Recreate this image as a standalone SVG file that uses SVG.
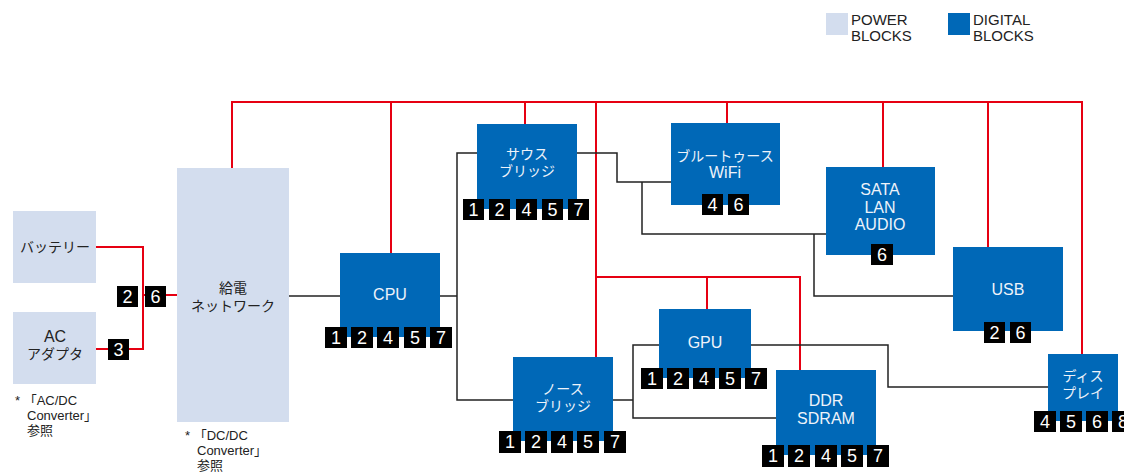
<svg xmlns="http://www.w3.org/2000/svg" width="1124" height="473" viewBox="0 0 1124 473">
<style>
.pw{fill:#d3ddee}
.dg{fill:#0068b7}
.red{stroke:#e60012;stroke-width:2;fill:none}
.blk{stroke:#222;stroke-width:1.5;fill:none}
.jp{font-family:"Noto Sans CJK JP","Liberation Sans",sans-serif;font-size:14px;text-anchor:middle}
.en{font-family:"Liberation Sans","Noto Sans CJK JP",sans-serif;font-size:16px;text-anchor:middle}
.dk{fill:#222}
.wt{fill:#eef3fa}
.note{font-family:"Liberation Sans","Noto Sans CJK JP",sans-serif;font-size:13px;fill:#222}
.leg{font-family:"Liberation Sans",sans-serif;font-size:15px;fill:#222}
.bg rect{fill:#000}
.bg text{font-family:"Liberation Sans",sans-serif;font-size:18px;fill:#fff;text-anchor:middle}
</style>

<g id="legend">
<rect class="pw" x="826" y="13" width="22" height="22"/>
<text class="leg" x="851" y="25">POWER</text>
<text class="leg" x="851" y="41">BLOCKS</text>
<rect class="dg" x="948" y="13" width="22" height="22"/>
<text class="leg" x="973" y="25">DIGITAL</text>
<text class="leg" x="973" y="41">BLOCKS</text>
</g>

<g id="connectors">
<polyline class="red" points="232,168 232,102 1082,102 1082,354"/>
<line class="red" x1="391" y1="102" x2="391" y2="253"/>
<line class="red" x1="525" y1="102" x2="525" y2="124"/>
<line class="red" x1="596" y1="102" x2="596" y2="357"/>
<line class="red" x1="727" y1="102" x2="727" y2="123"/>
<line class="red" x1="883" y1="102" x2="883" y2="167"/>
<line class="red" x1="988" y1="102" x2="988" y2="247"/>
<polyline class="red" points="596,277 800,277 800,370"/>
<line class="red" x1="707" y1="277" x2="707" y2="309"/>
<polyline class="red" points="96,247 143,247 143,349 96,349"/>
<line class="red" x1="143" y1="295" x2="177" y2="295"/>
<line class="blk" x1="289" y1="296" x2="340" y2="296"/>
<line class="blk" x1="440" y1="296" x2="457" y2="296"/>
<polyline class="blk" points="477,153 457,153 457,400 513,400"/>
<polyline class="blk" points="577,153 617,153 617,182 671,182"/>
<polyline class="blk" points="642,182 642,234 826,234"/>
<polyline class="blk" points="814,234 814,296 953,296"/>
<polyline class="blk" points="613,400 633,400"/>
<polyline class="blk" points="659,345 633,345 633,418 776,418"/>
<polyline class="blk" points="751,345 888,345 888,387 1048,387"/>
</g>

<g id="battery">
<rect class="pw" x="13" y="211" width="83" height="72"/>
<text class="jp dk" x="55" y="252">バッテリー</text>
</g>

<g id="ac-adapter">
<rect class="pw" x="13" y="312" width="83" height="72"/>
<text class="en dk" x="55" y="342">AC</text>
<text class="jp dk" x="55" y="359">アダプタ</text>
</g>

<g id="note-acdc">
<text class="note" x="15" y="405">* 「AC/DC</text>
<text class="note" x="27" y="420">Converter」</text>
<text class="note" x="27" y="435">参照</text>
</g>

<g id="power-network">
<rect class="pw" x="177" y="168" width="112" height="254"/>
<text class="jp dk" x="233" y="293">給電</text>
<text class="jp dk" x="233" y="311">ネットワーク</text>
</g>

<g id="note-dcdc">
<text class="note" x="185" y="440">* 「DC/DC</text>
<text class="note" x="197" y="455">Converter」</text>
<text class="note" x="197" y="470">参照</text>
</g>

<g id="badges-power" class="bg">
<rect x="117" y="286" width="21" height="21"/><text x="127.5" y="303">2</text>
<rect x="145" y="286" width="21" height="21"/><text x="155.5" y="303">6</text>
<rect x="108" y="339" width="21" height="21"/><text x="118.5" y="356">3</text>
</g>

<g id="cpu">
<rect class="dg" x="340" y="253" width="100" height="84"/>
<text class="en wt" x="390" y="300">CPU</text>
<g class="bg">
<rect x="325" y="327" width="22" height="21"/><text x="336" y="344">1</text>
<rect x="351" y="327" width="22" height="21"/><text x="362" y="344">2</text>
<rect x="377" y="327" width="22" height="21"/><text x="388" y="344">4</text>
<rect x="404" y="327" width="22" height="21"/><text x="415" y="344">5</text>
<rect x="430" y="327" width="22" height="21"/><text x="441" y="344">7</text>
</g>
</g>

<g id="south-bridge">
<rect class="dg" x="477" y="124" width="100" height="85"/>
<text class="jp wt" x="527" y="159">サウス</text>
<text class="jp wt" x="527" y="176">ブリッジ</text>
<g class="bg">
<rect x="463" y="199" width="21" height="21"/><text x="473.5" y="216">1</text>
<rect x="489" y="199" width="21" height="21"/><text x="499.5" y="216">2</text>
<rect x="516" y="199" width="21" height="21"/><text x="526.5" y="216">4</text>
<rect x="542" y="199" width="21" height="21"/><text x="552.5" y="216">5</text>
<rect x="568" y="199" width="21" height="21"/><text x="578.5" y="216">7</text>
</g>
</g>

<g id="bluetooth-wifi">
<rect class="dg" x="671" y="123" width="109" height="82"/>
<text class="jp wt" x="725" y="161">ブルートゥース</text>
<text class="en wt" x="725" y="178">WiFi</text>
<g class="bg">
<rect x="702" y="194" width="21" height="21"/><text x="712.5" y="211">4</text>
<rect x="728" y="194" width="21" height="21"/><text x="738.5" y="211">6</text>
</g>
</g>

<g id="sata-lan-audio">
<rect class="dg" x="826" y="167" width="109" height="88"/>
<text class="en wt" x="880" y="195">SATA</text>
<text class="en wt" x="880" y="212.5">LAN</text>
<text class="en wt" x="880" y="230">AUDIO</text>
<g class="bg">
<rect x="871" y="244" width="22" height="21"/><text x="882" y="261">6</text>
</g>
</g>

<g id="usb">
<rect class="dg" x="953" y="247" width="110" height="84"/>
<text class="en wt" x="1008" y="295">USB</text>
<g class="bg">
<rect x="984" y="322" width="21" height="21"/><text x="994.5" y="339">2</text>
<rect x="1010" y="322" width="21" height="21"/><text x="1020.5" y="339">6</text>
</g>
</g>

<g id="gpu">
<rect class="dg" x="659" y="309" width="92" height="69"/>
<text class="en wt" x="705" y="348">GPU</text>
<g class="bg">
<rect x="641" y="368" width="22" height="21"/><text x="652" y="385">1</text>
<rect x="667" y="368" width="22" height="21"/><text x="678" y="385">2</text>
<rect x="693" y="368" width="22" height="21"/><text x="704" y="385">4</text>
<rect x="719" y="368" width="22" height="21"/><text x="730" y="385">5</text>
<rect x="745" y="368" width="22" height="21"/><text x="756" y="385">7</text>
</g>
</g>

<g id="north-bridge">
<rect class="dg" x="513" y="357" width="100" height="84"/>
<text class="jp wt" x="563" y="394">ノース</text>
<text class="jp wt" x="563" y="411">ブリッジ</text>
<g class="bg">
<rect x="499" y="431" width="22" height="22"/><text x="510" y="448">1</text>
<rect x="525" y="431" width="22" height="22"/><text x="536" y="448">2</text>
<rect x="551" y="431" width="22" height="22"/><text x="562" y="448">4</text>
<rect x="577" y="431" width="22" height="22"/><text x="588" y="448">5</text>
<rect x="604" y="431" width="22" height="22"/><text x="615" y="448">7</text>
</g>
</g>

<g id="ddr-sdram">
<rect class="dg" x="776" y="370" width="100" height="85"/>
<text class="en wt" x="826" y="406">DDR</text>
<text class="en wt" x="826" y="424">SDRAM</text>
<g class="bg">
<rect x="762" y="445" width="22" height="22"/><text x="773" y="462">1</text>
<rect x="788" y="445" width="22" height="22"/><text x="799" y="462">2</text>
<rect x="815" y="445" width="22" height="22"/><text x="826" y="462">4</text>
<rect x="841" y="445" width="22" height="22"/><text x="852" y="462">5</text>
<rect x="867" y="445" width="22" height="22"/><text x="878" y="462">7</text>
</g>
</g>

<g id="display">
<rect class="dg" x="1048" y="354" width="70" height="67"/>
<text class="jp wt" x="1083" y="381">ディス</text>
<text class="jp wt" x="1083" y="398">プレイ</text>
<g class="bg">
<rect x="1034" y="411" width="22" height="21"/><text x="1045" y="428">4</text>
<rect x="1060" y="411" width="22" height="21"/><text x="1071" y="428">5</text>
<rect x="1086" y="411" width="22" height="21"/><text x="1097" y="428">6</text>
<rect x="1112" y="411" width="22" height="21"/><text x="1123" y="428">8</text>
</g>
</g>
</svg>
